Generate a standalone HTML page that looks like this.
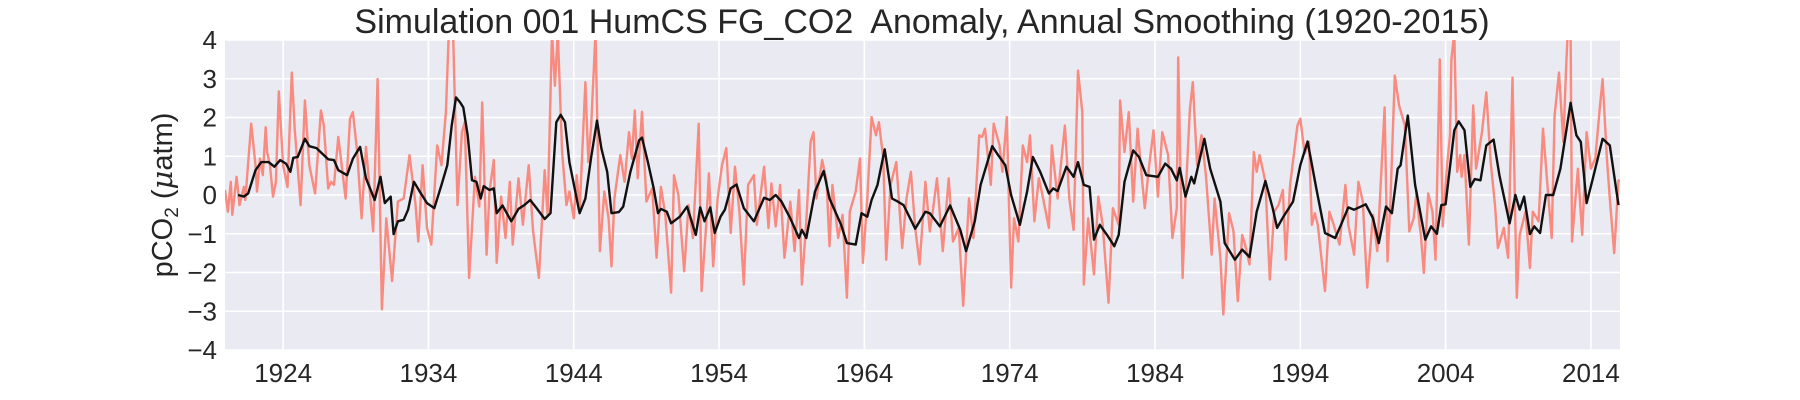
<!DOCTYPE html>
<html><head><meta charset="utf-8"><style>
html,body{margin:0;padding:0;background:#fff;}
svg{display:block;font-family:"Liberation Sans",sans-serif;}
</style></head><body>
<svg id="chart" width="1800" height="400" viewBox="0 0 1800 400" xmlns="http://www.w3.org/2000/svg">
<defs><clipPath id="pc"><rect x="225" y="40" width="1395" height="310"/></clipPath></defs>
<rect x="225" y="40" width="1395" height="310" fill="#eaeaf2"/>
<g id="grid"></g>
<g id="series" clip-path="url(#pc)"></g>
<g id="axes"></g>
<text x="922" y="33" font-size="34" text-anchor="middle" fill="#262626">Simulation 001 HumCS FG_CO2&#160; Anomaly, Annual Smoothing (1920-2015)</text>
<text transform="translate(172,195) rotate(-90)" font-size="29" text-anchor="middle" fill="#262626">pCO<tspan font-size="19" dy="6">2</tspan><tspan dy="-6"> (</tspan><tspan font-style="italic" font-family="'DejaVu Serif',serif">μ</tspan>atm)</text>
</svg>
<script>
const xTicks=[1924,1934,1944,1954,1964,1974,1984,1994,2004,2014];
const yTicks=[-4,-3,-2,-1,0,1,2,3,4];
const yTickLabels=["\u22124","\u22123","\u22122","\u22121","0","1","2","3","4"];
const smoothYears=[1920.9,1921.3,1921.6,1922.1,1922.5,1923.0,1923.4,1923.8,1924.2,1924.5,1924.7,1925.0,1925.5,1925.8,1926.3,1926.8,1927.1,1927.5,1927.8,1928.4,1928.8,1929.3,1929.7,1930.3,1930.7,1931.0,1931.4,1931.6,1931.9,1932.3,1932.6,1933.0,1933.4,1933.9,1934.4,1934.9,1935.3,1935.6,1935.9,1936.2,1936.4,1936.7,1937.0,1937.3,1937.6,1937.8,1938.2,1938.5,1938.7,1939.1,1939.7,1940.2,1940.6,1941.0,1941.4,1942.0,1942.4,1942.8,1943.1,1943.4,1943.7,1944.4,1944.8,1945.2,1945.6,1945.9,1946.3,1946.6,1947.1,1947.4,1947.9,1948.5,1948.7,1949.1,1949.5,1949.8,1950.0,1950.4,1950.7,1951.3,1951.8,1952.4,1952.7,1953.0,1953.4,1953.7,1954.1,1954.4,1954.8,1955.2,1955.7,1956.4,1957.1,1957.5,1957.9,1958.3,1958.9,1959.5,1959.7,1960.0,1960.6,1961.2,1961.6,1962.4,1962.8,1963.4,1963.8,1964.2,1964.5,1964.9,1965.4,1965.9,1966.3,1966.7,1967.5,1968.2,1968.5,1969.2,1969.9,1970.6,1971.0,1971.6,1972.0,1972.8,1973.2,1973.7,1974.1,1974.7,1975.2,1975.6,1976.1,1976.7,1977.0,1977.3,1977.9,1978.4,1978.7,1979.1,1979.5,1979.8,1980.2,1980.7,1981.2,1981.5,1981.9,1982.5,1982.9,1983.4,1984.2,1984.7,1985.1,1985.5,1985.7,1986.1,1986.5,1986.7,1987.4,1987.8,1988.5,1988.8,1989.5,1990.0,1990.5,1991.0,1991.6,1992.1,1992.4,1992.8,1993.5,1994.0,1994.5,1995.1,1995.7,1996.4,1996.8,1997.3,1997.7,1998.5,1999.0,1999.4,1999.9,2000.3,2000.7,2000.9,2001.4,2001.9,2002.6,2003.0,2003.4,2003.7,2004.0,2004.6,2004.9,2005.3,2005.7,2006.0,2006.4,2006.8,2007.3,2007.7,2008.4,2008.8,2009.1,2009.4,2009.8,2010.1,2010.5,2010.9,2011.4,2011.9,2012.6,2013.0,2013.3,2013.7,2014.1,2014.8,2015.3,2015.9];
const smoothValues=[0,-0.04,0.04,0.64,0.85,0.85,0.73,0.9,0.81,0.6,0.96,0.98,1.45,1.26,1.21,1.03,0.92,0.9,0.64,0.51,0.94,1.24,0.43,-0.13,0.47,-0.21,-0.04,-1.01,-0.68,-0.64,-0.38,0.34,0.09,-0.21,-0.34,0.26,0.77,1.79,2.52,2.38,2.26,1.54,0.38,0.34,-0.09,0.23,0.13,0.17,-0.47,-0.27,-0.68,-0.36,-0.26,-0.13,-0.32,-0.62,-0.47,1.88,2.07,1.88,0.85,-0.47,-0.09,0.98,1.92,1.2,0.6,-0.47,-0.44,-0.3,0.6,1.41,1.48,0.85,0.17,-0.47,-0.36,-0.43,-0.73,-0.56,-0.3,-1.03,-0.32,-0.68,-0.32,-0.98,-0.56,-0.38,0.17,0.27,-0.34,-0.68,-0.07,-0.13,0,-0.17,-0.6,-1.11,-0.9,-1.11,0.09,0.62,-0.09,-0.77,-1.24,-1.28,-0.47,-0.56,-0.13,0.26,1.18,-0.09,-0.17,-0.26,-0.87,-0.43,-0.47,-0.81,-0.27,-0.9,-1.45,-0.68,0.26,1.26,1.03,0.77,0,-0.77,0.09,0.98,0.6,0.04,0.17,0.1,0.73,0.47,0.85,0.26,0.21,-1.15,-0.77,-1.03,-1.32,-1.03,0.34,1.15,0.98,0.51,0.47,0.81,0.68,0.38,0.7,-0.04,0.47,0.3,1.45,0.68,-0.17,-1.24,-1.67,-1.41,-1.6,-0.43,0.36,-0.34,-0.85,-0.58,-0.17,0.77,1.38,0.17,-0.98,-1.11,-0.77,-0.32,-0.38,-0.24,-0.6,-1.24,-0.3,-0.47,0.68,0.77,2.05,0.26,-1.15,-0.81,-1.0,-0.26,-0.24,1.67,1.9,1.67,0.21,0.41,0.38,1.28,1.43,0.51,-0.73,0,-0.38,-0.04,-1.01,-0.81,-0.98,0,0,0.68,2.38,1.54,1.37,-0.21,0.38,1.45,1.28,-0.26];
const rawYears=[1920.0,1920.2,1920.4,1920.5,1920.8,1921.0,1921.3,1921.4,1921.8,1922.1,1922.2,1922.4,1922.6,1922.8,1922.9,1923.1,1923.3,1923.5,1923.7,1924.0,1924.3,1924.6,1924.8,1925.2,1925.5,1925.8,1926.2,1926.6,1926.8,1927.1,1927.3,1927.5,1927.8,1928.3,1928.6,1928.8,1929.1,1929.4,1929.7,1930.2,1930.5,1930.8,1931.1,1931.5,1931.9,1932.3,1932.7,1933.1,1933.3,1933.6,1933.9,1934.2,1934.6,1934.9,1935.2,1935.4,1935.7,1936.0,1936.3,1936.5,1936.8,1937.2,1937.5,1937.7,1938.0,1938.2,1938.5,1938.7,1939.0,1939.3,1939.6,1939.8,1940.2,1940.5,1940.9,1941.2,1941.6,1942.0,1942.2,1942.5,1942.7,1942.9,1943.2,1943.5,1943.7,1944.0,1944.2,1944.4,1944.8,1945.0,1945.2,1945.5,1945.8,1946.1,1946.4,1946.6,1946.8,1947.2,1947.5,1947.8,1948.0,1948.2,1948.4,1948.7,1949.0,1949.4,1949.7,1950.0,1950.3,1950.7,1950.9,1951.2,1951.6,1951.9,1952.2,1952.6,1952.8,1953.1,1953.3,1953.6,1953.9,1954.2,1954.5,1954.8,1955.1,1955.4,1955.7,1956.0,1956.4,1956.6,1957.1,1957.4,1957.6,1957.9,1958.2,1958.5,1958.9,1959.2,1959.5,1959.7,1960.0,1960.3,1960.5,1960.7,1961.1,1961.4,1961.6,1961.8,1962.2,1962.5,1962.8,1963.0,1963.4,1963.7,1963.9,1964.2,1964.5,1964.8,1965.0,1965.3,1965.5,1965.8,1966.2,1966.6,1966.9,1967.2,1967.5,1967.8,1968.2,1968.5,1968.7,1969.0,1969.4,1969.8,1970.1,1970.5,1970.8,1971.2,1971.5,1971.9,1972.1,1972.3,1972.7,1972.9,1973.3,1973.5,1973.8,1974.1,1974.3,1974.6,1974.9,1975.2,1975.4,1975.7,1976.0,1976.2,1976.7,1976.9,1977.3,1977.5,1977.8,1978.1,1978.4,1978.7,1979.0,1979.1,1979.4,1979.6,1979.8,1980.1,1980.4,1980.8,1981.1,1981.5,1981.6,1981.9,1982.2,1982.5,1982.8,1983.1,1983.3,1983.6,1983.9,1984.2,1984.5,1984.9,1985.2,1985.5,1985.6,1985.9,1986.1,1986.4,1986.6,1986.9,1987.2,1987.5,1987.9,1988.1,1988.5,1988.7,1989.1,1989.4,1989.7,1990.0,1990.2,1990.5,1990.8,1991.0,1991.2,1991.6,1991.9,1992.2,1992.5,1992.8,1993.0,1993.3,1993.8,1994.0,1994.3,1994.6,1994.8,1995.0,1995.2,1995.7,1996.0,1996.3,1996.7,1997.1,1997.3,1997.7,1998.0,1998.3,1998.6,1999.0,1999.3,1999.8,2000.0,2000.2,2000.5,2000.8,2001.2,2001.5,2001.8,2002.0,2002.2,2002.3,2002.5,2002.8,2003.1,2003.3,2003.6,2003.8,2004.1,2004.3,2004.4,2004.6,2004.8,2005.0,2005.1,2005.3,2005.6,2005.9,2006.1,2006.5,2006.8,2007.1,2007.4,2007.6,2008.0,2008.3,2008.6,2008.9,2009.1,2009.5,2009.8,2010.0,2010.4,2010.7,2011.0,2011.3,2011.5,2011.8,2012.1,2012.3,2012.4,2012.6,2012.7,2013.1,2013.4,2013.7,2014.0,2014.3,2014.6,2014.8,2015.1,2015.3,2015.6,2015.9,2016.0];
const rawValues=[0.13,-0.43,0.34,-0.51,0.47,-0.26,0.21,-0.13,1.84,0.77,0.09,0.94,0.51,1.75,1.11,0.77,-0.04,0.34,2.67,0.77,0.21,3.16,1.71,-0.26,2.44,0.77,0.04,2.18,1.79,0.17,0.34,0.26,1.5,-0.09,1.97,2.14,1.11,-0.6,1.24,-0.94,2.99,-2.95,-0.6,-2.22,-0.17,-0.09,1.03,-0.21,-1.2,0.77,-0.85,-1.28,1.28,0.77,2.14,4.2,4.2,-0.26,1.62,1.88,-2.14,0.47,-0.3,2.39,-1.54,0.09,0.9,-1.75,-0.04,-1.11,0.34,-1.28,0.43,-0.77,0.77,-0.94,-2.14,0.64,-0.51,4.2,2.82,4.2,1.11,-0.26,0.09,-0.6,0.51,-0.43,2.91,0.85,1.79,4.2,-1.45,0.09,-0.6,-1.84,-0.09,1.03,0.34,1.62,0.94,2.18,0.43,2.15,-0.17,0.17,-1.62,0.21,-0.51,-2.52,0.51,0,-1.97,-0.26,-1.11,1.84,-2.48,-0.85,0.56,-1.84,-0.09,0.77,1.21,-0.98,0.73,-0.43,-2.31,0.26,0.51,-0.77,0.73,-0.85,0.3,-0.81,0.26,-1.62,-0.17,-1.45,0.13,-2.31,-0.68,1.37,1.62,-0.09,0.9,0.34,-1.32,0.26,-1.11,-0.51,-2.65,-0.43,0.09,0.94,-1.75,-0.09,2.01,1.54,1.88,0.94,-1.67,0.26,0.85,-1.37,-0.09,0.6,-0.85,-1.79,0.34,-0.94,-0.43,0.43,-1.45,0.43,-1.2,-0.85,-2.86,-0.09,-1.11,1.54,1.5,1.71,0.26,1.84,1.28,0.6,2.01,-2.39,-0.6,-1.2,1.28,0.85,1.54,-0.68,0.43,0.09,-0.85,1.28,-0.09,0.68,1.79,-0.09,-0.9,3.21,2.14,-2.31,-0.6,-1.32,-2.05,-0.04,-0.77,-2.78,-0.34,-0.77,2.44,1.11,2.14,-0.17,1.71,0.43,-0.34,0.77,1.67,-0.04,1.62,1.03,-1.11,-0.34,3.55,-2.14,-0.09,2.22,2.91,0.77,1.54,0.51,-1.54,-0.09,-1.62,-3.08,-0.47,-0.94,-2.74,-1.03,-1.28,-1.79,1.11,0.6,1.03,0.34,-2.18,-0.43,-0.26,0.13,-1.67,0.26,1.79,1.97,1.07,1.37,-0.77,-0.47,-0.77,-2.48,-0.43,-0.77,-1.28,0.26,-0.77,-1.54,0.34,-0.17,-2.39,-0.51,-1.45,2.26,-1.71,-0.17,3.08,2.31,1.79,-0.94,-0.6,0.09,-0.77,-1.03,-2.01,0.04,-0.43,-1.67,3.5,-0.81,0.77,1.54,3.5,4.2,0.6,1.03,0.47,1.03,-1.28,2.31,0.68,1.62,2.65,0.85,-0.26,-1.37,-0.85,-1.62,3.03,-2.65,-1.03,-0.43,-1.88,-0.43,-0.68,1.71,0.3,-1.11,2.05,3.16,1.37,3.33,4.2,4.2,-1.2,0.68,-1.03,1.62,0.68,0.94,2.22,2.99,0.94,-0.09,-1.5,0.38,0.34];

const X0=225,X1=1620,Y0=40,Y1=350,yearMin=1920,yearMax=2016,vMin=-4,vMax=4;
function xs(y){return X0+(y-yearMin)/(yearMax-yearMin)*(X1-X0);}
function ys(v){return Y1-(v-vMin)/(vMax-vMin)*(Y1-Y0);}
const NS="http://www.w3.org/2000/svg";
function mk(tag,attrs,parent){const e=document.createElementNS(NS,tag);for(const k in attrs)e.setAttribute(k,attrs[k]);parent.appendChild(e);return e;}
const grid=document.getElementById('grid'),axes=document.getElementById('axes'),series=document.getElementById('series');
xTicks.forEach(t=>{
  const l=mk('line',{x1:xs(t),x2:xs(t),y1:Y0,y2:Y1,stroke:'#fff','stroke-width':1.6},grid);
  
  
  const tx=mk('text',{x:xs(t),y:382,'font-size':26,'text-anchor':'middle',fill:'#262626'},axes);
  tx.textContent=t;
  
  
});
yTicks.forEach((t,i)=>{
  const l=mk('line',{x1:X0,x2:X1,y1:ys(t),y2:ys(t),stroke:'#fff','stroke-width':1.6},grid);
  
  
  const tx=mk('text',{x:217,y:ys(t)+9,'font-size':26,'text-anchor':'end',fill:'#262626'},axes);
  tx.textContent=yTickLabels[i];
  
  
});
function path(xa,va){return xa.map((y,i)=>(i?'L':'M')+xs(y).toFixed(1)+' '+ys(va[i]).toFixed(1)).join(' ');}
const raw=mk('path',{d:path(rawYears,rawValues),fill:'none',stroke:'#fa8072','stroke-opacity':0.9,'stroke-width':2.4,'stroke-linejoin':'round'},series);


const sm=mk('path',{d:path(smoothYears,smoothValues),fill:'none',stroke:'#111','stroke-width':2.4,'stroke-linejoin':'round'},series);


</script>
</body></html>
